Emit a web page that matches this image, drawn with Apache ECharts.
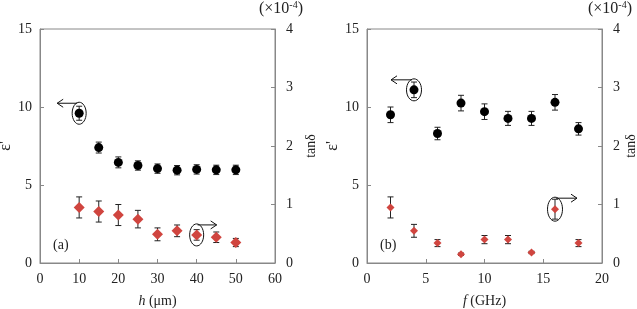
<!DOCTYPE html>
<html><head><meta charset="utf-8">
<script src="https://cdn.jsdelivr.net/npm/echarts@6/dist/echarts.min.js"></script>
<style>html,body{margin:0;padding:0;background:#fff}#c{width:637px;height:309px}</style>
</head><body><div id="c"></div>
<script>
// Panel (a): thickness dependence
const hA = [10, 15, 20, 25, 30, 35, 40, 45, 50];
const epsA = [9.6, 7.4, 6.45, 6.25, 6.05, 5.95, 6.0, 5.97, 5.97];
const epsAErr = [0.45, 0.35, 0.35, 0.3, 0.3, 0.3, 0.3, 0.3, 0.3];
const tanA = [0.95, 0.88, 0.82, 0.75, 0.49, 0.55, 0.48, 0.44, 0.35];
const tanAErr = [0.18, 0.18, 0.18, 0.15, 0.11, 0.1, 0.09, 0.09, 0.07];
// Panel (b): frequency dependence
const fB = [2, 4, 6, 8, 10, 12, 14, 16, 18];
const epsB = [9.5, 11.1, 8.3, 10.25, 9.7, 9.27, 9.27, 10.3, 8.6];
const epsBErr = [0.5, 0.5, 0.4, 0.5, 0.5, 0.45, 0.45, 0.5, 0.4];
const tanB = [0.95, 0.55, 0.34, 0.15, 0.4, 0.4, 0.18, 0.92, 0.34];
const tanBErr = [0.18, 0.11, 0.06, 0.02, 0.07, 0.07, 0.02, 0.17, 0.06];

const FONT = '"Liberation Serif","Times New Roman",serif';
const FS = 14;
const AXC = '#888';
const TXT = '#222';
const RED = '#d0453f';

function pts(xs, ys) { return xs.map((x, i) => [x, ys[i]]); }
function errPts(xs, ys, es) { return xs.map((x, i) => [x, ys[i], es[i]]); }

function errRender(params, api) {
  const x = api.value(0), y = api.value(1), e = api.value(2);
  const t = api.coord([x, y + e]), b = api.coord([x, y - e]);
  const w = 3;
  const st = { stroke: '#222', lineWidth: 1 };
  return { type: 'group', children: [
    { type: 'line', shape: { x1: t[0], y1: t[1], x2: b[0], y2: b[1] }, style: st },
    { type: 'line', shape: { x1: t[0] - w, y1: t[1], x2: t[0] + w, y2: t[1] }, style: st },
    { type: 'line', shape: { x1: b[0] - w, y1: b[1], x2: b[0] + w, y2: b[1] }, style: st }
  ]};
}

function xAx(gi, max, interval, nameRich) {
  return {
    gridIndex: gi, type: 'value', min: 0, max: max, interval: interval,
    name: nameRich, nameLocation: 'middle', nameGap: 31,
    nameTextStyle: { fontFamily: FONT, fontSize: FS, color: TXT,
      rich: { i: { fontFamily: FONT, fontSize: FS, fontStyle: 'italic', color: TXT },
              n: { fontFamily: FONT, fontSize: FS, color: TXT } } },
    axisLine: { show: true, lineStyle: { color: AXC } },
    axisTick: { show: true, inside: true, length: 4, lineStyle: { color: AXC } },
    axisLabel: { fontFamily: FONT, fontSize: FS, color: TXT, margin: 9 },
    splitLine: { show: false }
  };
}
function yAx(gi, pos, max, interval, name, margin, gap, nfs) {
  return {
    gridIndex: gi, type: 'value', position: pos, min: 0, max: max, interval: interval,
    name: name, nameLocation: 'middle', nameGap: gap, nameRotate: 90,
    nameTextStyle: { fontFamily: FONT, fontSize: nfs, color: TXT },
    axisLine: { show: true, onZero: false, lineStyle: { color: AXC } },
    axisTick: { show: true, inside: true, length: 4, lineStyle: { color: AXC } },
    axisLabel: { fontFamily: FONT, fontSize: FS, color: TXT, margin: margin },
    splitLine: { show: false }
  };
}

const chart = echarts.init(document.getElementById('c'), null, { renderer: 'canvas' });
const option = {
  animation: false,
  backgroundColor: '#fff',
  grid: [
    { left: 40, top: 29, width: 235, height: 234, show: true, borderColor: AXC, borderWidth: 1, containLabel: false, outerBoundsMode: 'none' },
    { left: 367, top: 29, width: 235, height: 234, show: true, borderColor: AXC, borderWidth: 1, containLabel: false, outerBoundsMode: 'none' }
  ],
  xAxis: [
    xAx(0, 60, 10, '{i|h} {n|(μm)}'),
    xAx(1, 20, 5, '{i|f} {n|(GHz)}')
  ],
  yAxis: [
    yAx(0, 'left', 15, 5, "ε'", 8, 18, 16),
    yAx(0, 'right', 4, 1, 'tanδ', 11, 29, FS),
    yAx(1, 'left', 15, 5, "ε'", 8, 18, 16),
    yAx(1, 'right', 4, 1, 'tanδ', 11, 22, FS)
  ],
  series: [
    { type: 'custom', xAxisIndex: 0, yAxisIndex: 0, renderItem: errRender, data: errPts(hA, epsA, epsAErr), z: 2 },
    { type: 'custom', xAxisIndex: 0, yAxisIndex: 1, renderItem: errRender, data: errPts(hA, tanA, tanAErr), z: 2 },
    { type: 'custom', xAxisIndex: 1, yAxisIndex: 2, renderItem: errRender, data: errPts(fB, epsB, epsBErr), z: 2 },
    { type: 'custom', xAxisIndex: 1, yAxisIndex: 3, renderItem: errRender, data: errPts(fB, tanB, tanBErr), z: 2 },
    { type: 'scatter', xAxisIndex: 0, yAxisIndex: 0, data: pts(hA, epsA), symbol: 'circle', symbolSize: 9, itemStyle: { color: '#000', opacity: 1 }, z: 3 },
    { type: 'scatter', xAxisIndex: 0, yAxisIndex: 1, data: pts(hA, tanA), symbol: 'diamond', symbolSize: 11, itemStyle: { color: RED, opacity: 1 }, z: 3 },
    { type: 'scatter', xAxisIndex: 1, yAxisIndex: 2, data: pts(fB, epsB), symbol: 'circle', symbolSize: 9, itemStyle: { color: '#000', opacity: 1 }, z: 3 },
    { type: 'scatter', xAxisIndex: 1, yAxisIndex: 3, data: pts(fB, tanB), symbol: 'diamond', symbolSize: 8, itemStyle: { color: RED, opacity: 1 }, z: 3 }
  ]
};
chart.setOption(option);

function callout(gridIdx, yIdx, x, y, dir, rx, ry, len) {
  const p = chart.convertToPixel({ xAxisIndex: gridIdx, yAxisIndex: yIdx }, [x, y]);
  const cx = p[0], cy = p[1];
  const st = { stroke: '#111', lineWidth: 1, fill: null };
  const ly = cy - ry + 1;
  const x0 = cx + (dir < 0 ? -2 : 1);
  const x1 = x0 + dir * len;
  return [
    { type: 'ellipse', shape: { cx: cx, cy: cy, rx: rx, ry: ry }, style: st, z: 10 },
    { type: 'line', shape: { x1: x0, y1: ly, x2: x1, y2: ly }, style: st, z: 10 },
    { type: 'polyline', shape: { points: [[x1 - dir * 6, ly - 4], [x1, ly], [x1 - dir * 6, ly + 4]] }, style: st, z: 10 }
  ];
}

const g = [];
g.push(...callout(0, 0, hA[0], epsA[0], -1, 7, 11, 20));
g.push(...callout(0, 1, hA[6], tanA[6], 1, 7, 11, 19));
g.push(...callout(1, 2, fB[1], epsB[1], -1, 7.5, 11, 21));
g.push(...callout(1, 3, fB[7], tanB[7], 1, 7.5, 12, 21));

const lbl = (l, t, text) => ({ type: 'text', left: l, top: t, z: 10,
  style: { text: text, font: FS + 'px ' + FONT, fill: TXT } });
g.push(lbl(53, 238, '(a)'));
g.push(lbl(380, 238, '(b)'));
const sci = (l) => ({ type: 'text', left: l, top: 0, z: 10,
  style: { text: '(×10{s|-4})', font: '16px ' + FONT, fill: TXT,
    rich: { s: { fontSize: 10, verticalAlign: 'top', fontFamily: FONT, fill: TXT, padding: [0, 0, 7, 0] } } } });
g.push(sci(259));
g.push(sci(588));

chart.setOption({ graphic: g });
</script></body></html>
